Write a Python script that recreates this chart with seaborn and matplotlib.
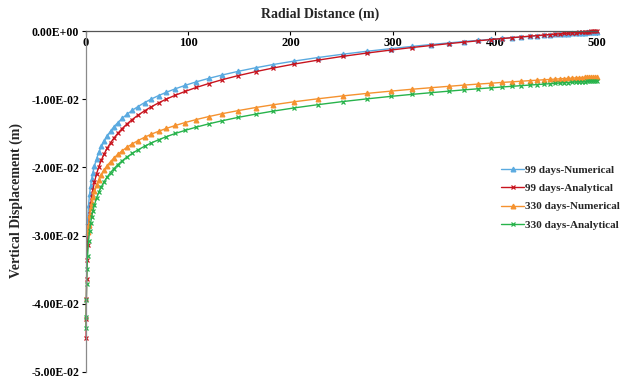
import matplotlib
matplotlib.use("Agg")
import matplotlib.pyplot as plt
import seaborn as sns
import pandas as pd

# ---- data ----
r_well = [0.12, 0.2, 0.35, 0.6, 1.0]
r_num = [1.5, 2.5, 3.5, 4.5, 5.5, 6.7, 8.3, 10.3, 12.5, 15, 17.5, 20.7, 24, 27.2, 31,
         35.4, 40.3, 45.2, 50.7, 57.3, 63.8, 71, 78.7, 87.5, 97, 108, 120, 133, 149,
         166, 183, 204, 227, 251, 275, 298, 319, 338, 355, 370, 384, 396, 407, 417,
         426, 434, 441, 448, 454, 459, 464, 468, 472, 476, 479, 482, 485, 488, 490,
         492, 494, 496, 498, 500]
r_ana = r_well + r_num

num_99 = [-0.02798, -0.02553, -0.02392, -0.02271, -0.02175, -0.02080, -0.01977, -0.01873,
          -0.01781, -0.01693, -0.01619, -0.01538, -0.01468, -0.01407, -0.01345, -0.01281,
          -0.01219, -0.01164, -0.01109, -0.01050, -0.00998, -0.00947, -0.00898, -0.00847,
          -0.00797, -0.00745, -0.00695, -0.00646, -0.00591, -0.00539, -0.00492, -0.00440,
          -0.00389, -0.00341, -0.00297, -0.00259, -0.00226, -0.00198, -0.00175, -0.00154,
          -0.00137, -0.00122, -0.00109, -0.00097, -0.00087, -0.00078, -0.00070, -0.00063,
          -0.00057, -0.00051, -0.00046, -0.00042, -0.00038, -0.00034, -0.00031, -0.00028,
          -0.00024, -0.00022, -0.00020, -0.00018, -0.00016, -0.00014, -0.00012, -0.00010]

ana_99 = [-0.04501, -0.04225, -0.03923, -0.03632, -0.03356,
          -0.03137, -0.02861, -0.02679, -0.02543, -0.02435, -0.02329, -0.02213, -0.02096,
          -0.01992, -0.01894, -0.01810, -0.01719, -0.01640, -0.01572, -0.01502, -0.01430,
          -0.01360, -0.01298, -0.01236, -0.01170, -0.01112, -0.01054, -0.00998, -0.00941,
          -0.00886, -0.00827, -0.00771, -0.00715, -0.00654, -0.00596, -0.00543, -0.00484,
          -0.00427, -0.00372, -0.00323, -0.00280, -0.00242, -0.00212, -0.00185, -0.00163,
          -0.00143, -0.00126, -0.00111, -0.00098, -0.00086, -0.00077, -0.00068, -0.00059,
          -0.00052, -0.00046, -0.00041, -0.00036, -0.00031, -0.00026, -0.00023, -0.00020,
          -0.00016, -0.00013, -0.00011, -0.00009, -0.00006, -0.00004, -0.00002, 0.0]

num_330 = [-0.02950, -0.02842, -0.02704, -0.02601, -0.02519, -0.02438, -0.02350, -0.02262,
           -0.02182, -0.02108, -0.02044, -0.01975, -0.01915, -0.01864, -0.01810, -0.01756,
           -0.01702, -0.01656, -0.01608, -0.01558, -0.01514, -0.01470, -0.01428, -0.01385,
           -0.01342, -0.01298, -0.01255, -0.01213, -0.01167, -0.01122, -0.01082, -0.01037,
           -0.00994, -0.00952, -0.00915, -0.00882, -0.00854, -0.00831, -0.00811, -0.00793,
           -0.00778, -0.00766, -0.00754, -0.00745, -0.00736, -0.00728, -0.00722, -0.00715,
           -0.00710, -0.00705, -0.00701, -0.00697, -0.00694, -0.00690, -0.00688, -0.00685,
           -0.00682, -0.00680, -0.00678, -0.00677, -0.00675, -0.00673, -0.00672, -0.00670]

ana_330 = [-0.04360, -0.04196, -0.03948, -0.03709, -0.03483,
           -0.03303, -0.03077, -0.02928, -0.02817, -0.02728, -0.02641, -0.02545, -0.02450,
           -0.02364, -0.02284, -0.02215, -0.02141, -0.02075, -0.02020, -0.01962, -0.01903,
           -0.01845, -0.01795, -0.01744, -0.01690, -0.01642, -0.01595, -0.01549, -0.01502,
           -0.01457, -0.01409, -0.01362, -0.01317, -0.01266, -0.01219, -0.01175, -0.01127,
           -0.01080, -0.01035, -0.00995, -0.00959, -0.00929, -0.00904, -0.00882, -0.00863,
           -0.00847, -0.00833, -0.00821, -0.00811, -0.00801, -0.00793, -0.00786, -0.00779,
           -0.00773, -0.00768, -0.00763, -0.00759, -0.00756, -0.00752, -0.00749, -0.00746,
           -0.00743, -0.00741, -0.00739, -0.00737, -0.00735, -0.00734, -0.00732, -0.00730]

series_names = ["99 days-Numerical", "99 days-Analytical", "330 days-Numerical", "330 days-Analytical"]
x_ticks = [0, 100, 200, 300, 400, 500]
y_ticks = [0.0, -0.01, -0.02, -0.03, -0.04, -0.05]

# ---- styling ----
sns.set_style("white")
plt.rcParams['font.family'] = ['Liberation Serif', 'DejaVu Serif']
plt.rcParams['font.weight'] = 'bold'

fig = plt.figure(figsize=(6.3, 3.79), dpi=100)
ax = fig.add_axes([86 / 630, 1 - 372 / 379, (597 - 86) / 630, (372 - 31) / 379])

specs = [
    (r_num, num_99, "#5AAAE0", "^", 3.4, series_names[0]),
    (r_ana, ana_99, "#C8141E", "x", 3.5, series_names[1]),
    (r_num, num_330, "#F5922F", "^", 3.4, series_names[2]),
    (r_ana, ana_330, "#27B34B", "x", 3.5, series_names[3]),
]
for xs, ys, col, mk, ms, lab in specs:
    df = pd.DataFrame({"r": xs, "u": ys})
    sns.lineplot(data=df, x="r", y="u", ax=ax, color=col, marker=mk, markersize=ms,
                 linewidth=1.0, label=lab, markeredgecolor=col, markeredgewidth=0.9,
                 clip_on=False)

ax.set_xlim(0, 500)
ax.set_ylim(-0.05, 0)
ax.set_xticks(x_ticks)
ax.set_yticks(y_ticks)
ax.set_yticklabels(["%.2E" % v for v in y_ticks])
ax.xaxis.tick_top()
ax.tick_params(axis='x', direction='in', length=3, pad=-13, labelsize=9, colors='black')
ax.tick_params(axis='y', direction='out', length=3, pad=2, labelsize=8.5, colors='black', left=True)
for lbl in ax.get_xticklabels() + ax.get_yticklabels():
    lbl.set_fontweight('bold')

for s in ['right', 'bottom']:
    ax.spines[s].set_visible(False)
ax.spines['left'].set_color('#8a8a8a')
ax.spines['top'].set_color('#555555')
ax.spines['left'].set_linewidth(0.9)
ax.spines['top'].set_linewidth(0.9)

ax.xaxis.set_label_position('top')
ax.set_xlabel("Radial Distance (m)", fontsize=10, fontweight='bold')
ax.xaxis.set_label_coords(0.458, 1.04)
ax.set_ylabel("Vertical Displacement (m)", fontsize=10, fontweight='bold')
ax.yaxis.set_label_coords(-0.124, 0.504)

leg = ax.legend(loc='upper left', bbox_to_anchor=((497 - 86) / 511, (372 - 161) / 341),
                frameon=False, fontsize=8, handlelength=2.0, handletextpad=0.15,
                labelspacing=0.75, borderaxespad=0)
for t in leg.get_texts():
    t.set_fontweight('bold')

fig.savefig("out.png", dpi=100, facecolor='white')
